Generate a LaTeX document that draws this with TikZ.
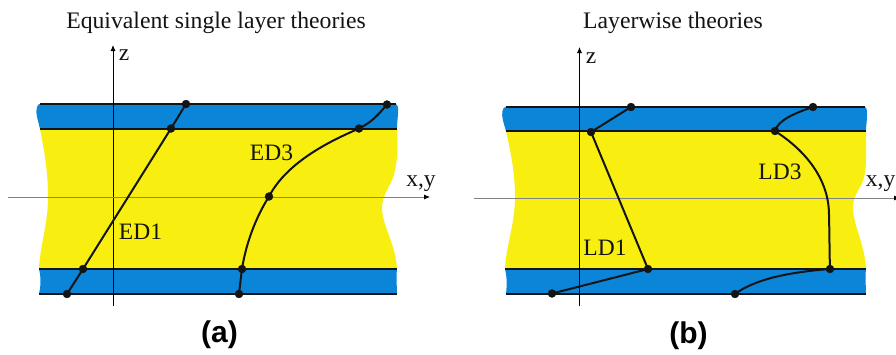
\documentclass[tikz,border=0pt]{standalone}
\usepackage{fontspec}
\setmainfont{Liberation Serif}
\newfontfamily\labelsans{Liberation Sans}
\usetikzlibrary{arrows.meta}
\definecolor{plyblue}{RGB}{10,133,215}
\definecolor{plyyellow}{RGB}{248,238,16}
\definecolor{axisgray}{RGB}{130,130,130}
\definecolor{inkblack}{RGB}{20,20,20}
\tikzset{
  pt/.style={circle,fill=inkblack,draw=inkblack,inner sep=0pt,minimum size=8pt,line width=0.3pt},
  curveline/.style={draw=inkblack,line width=2pt},
  iface/.style={draw=inkblack,line width=1.6pt},
  zaxis/.style={draw=black,line width=0.8pt,-{Latex[length=6pt,width=5pt]}},
  xaxis/.style={draw=axisgray,line width=0.8pt,-{Latex[length=6pt,width=5pt,color=black]}},
  lab/.style={inner sep=0pt,font=\fontsize{23.5}{23.5}\selectfont,text=inkblack},
  ttl/.style={inner sep=0pt,font=\fontsize{23.7}{23.7}\selectfont,text=inkblack},
  captext/.style={inner sep=0pt,font=\labelsans\bfseries\fontsize{30}{30}\selectfont}
}
\begin{document}
\begin{tikzpicture}[x=1pt,y=-1pt]
\useasboundingbox (0,0) rectangle (896,354);
\clip (0,0) rectangle (896,354);
\fill[white] (0,0) rectangle (896,354);
% left panel layers
\fill[plyblue] (40,104) -- (395,104) .. controls (398,104) and (398.5,108) .. (398,114) .. controls (397.5,120) and (397,124) .. (397,129) -- (40,129) .. controls (38,120) and (35,112) .. (37,107) .. controls (37.5,105) and (38.5,104) .. (40,104) -- cycle;
\fill[plyyellow] (40,129) -- (397,129) .. controls (397.5,145) and (398,160) .. (394,175) .. controls (391,185) and (382,195) .. (382,208) .. controls (382,225) and (396,245) .. (397,269) -- (39,269) .. controls (40,245) and (48,225) .. (48,197) .. controls (48,170) and (44,150) .. (40,129) -- cycle;
\fill[plyblue] (39,269) -- (397,269) .. controls (396,278) and (397,287) .. (397,294) -- (39,294) .. controls (41,285) and (41,277) .. (39,269) -- cycle;
\coordinate (a1) at (40,104); \coordinate (a2) at (396,104);
\coordinate (a3) at (40,129); \coordinate (a4) at (397,129);
\coordinate (a5) at (39,269); \coordinate (a6) at (397,269);
\coordinate (a7) at (39,294); \coordinate (a8) at (397,294);
\draw[iface] (a1)--(a2); \draw[iface] (a3)--(a4); \draw[iface] (a5)--(a6); \draw[iface] (a7)--(a8);
% left axes
\coordinate (azb) at (113,306); \coordinate (azt) at (113,45);
\coordinate (axl) at (8,197); \coordinate (axr) at (430,197);
\draw[zaxis] (azb)--(azt);
\draw[xaxis] (axl)--(axr);
% right panel layers
\fill[plyblue] (506,107) -- (864,107) .. controls (867,107) and (867,110) .. (867,115) .. controls (867,121) and (866,126) .. (866,131) -- (506,131) .. controls (504,124) and (501,116) .. (502.5,111) .. controls (503,108) and (504,107) .. (506,107) -- cycle;
\fill[plyyellow] (506,131) -- (866,131) .. controls (866,145) and (867,165) .. (864,178) .. controls (861,188) and (853,195) .. (853,207) .. controls (853,225) and (865,245) .. (866,269) -- (505,269) .. controls (506,245) and (515,225) .. (515,197) .. controls (515,170) and (510,150) .. (506,131) -- cycle;
\fill[plyblue] (505,269) -- (866,269) .. controls (865,278) and (866,287) .. (866,294) -- (506,294) .. controls (507,285) and (507,277) .. (505,269) -- cycle;
\coordinate (b1) at (506,107); \coordinate (b2) at (865,107);
\coordinate (b3) at (506,131); \coordinate (b4) at (866,131);
\coordinate (b5) at (505,269); \coordinate (b6) at (866,269);
\coordinate (b7) at (506,294); \coordinate (b8) at (866,294);
\draw[iface] (b1)--(b2); \draw[iface] (b3)--(b4); \draw[iface] (b5)--(b6); \draw[iface] (b7)--(b8);
% right axes
\coordinate (bzb) at (579.5,306); \coordinate (bzt) at (579.5,47);
\coordinate (bxl) at (474,198); \coordinate (bxr) at (900,198);
\draw[zaxis] (bzb)--(bzt);
\draw[xaxis] (bxl)--(bxr);
% points
\node[pt] (e1) at (186,104) {};
\node[pt] (e2) at (171,128.5) {};
\node[pt] (e3) at (83,269) {};
\node[pt] (e4) at (67,294) {};
\node[pt] (f1) at (387,104.5) {};
\node[pt] (f2) at (359,128.5) {};
\node[pt] (f3) at (269,196.5) {};
\node[pt] (f4) at (242,269) {};
\node[pt] (f5) at (239,294) {};
\node[pt] (g1) at (631,107) {};
\node[pt] (g2) at (591,132) {};
\node[pt] (g3) at (648,269) {};
\node[pt] (g4) at (552,293.5) {};
\node[pt] (h1) at (813,107) {};
\node[pt] (h2) at (775,131) {};
\node[pt] (h3) at (830,269) {};
\node[pt] (h4) at (735,294) {};
% curves
\draw[curveline] (e1.center)--(e2.center)--(e3.center)--(e4.center);
\draw[curveline] (f1.center) .. controls (378,115) and (372,122) .. (f2.center)
  .. controls (335,139) and (288,160) .. (f3.center)
  .. controls (256,217) and (246,243) .. (f4.center)
  .. controls (241,277) and (240,285) .. (f5.center);
\draw[curveline] (g1.center)--(g2.center)--(g3.center)--(g4.center);
\draw[curveline] (h1.center) .. controls (795,113) and (778,120) .. (h2.center)
  .. controls (800,147) and (829,175) .. (829,215)
  .. controls (829.5,235) and (829.5,255) .. (h3.center)
  .. controls (790,272) and (755,279) .. (h4.center);
% labels
\node[lab,anchor=base] (lz1) at (124,60) {z};
\node[lab,anchor=base] (lxy1) at (421,186) {x,y};
\node[lab,anchor=base] (led3) at (271.5,160) {ED3};
\node[lab,anchor=base] (led1) at (140.5,239) {ED1};
\node[lab,anchor=base] (lz2) at (591,63) {z};
\node[lab,anchor=base east] (lxy2) at (895.5,186) {x,y};
\node[lab,anchor=base] (lld3) at (780,179) {LD3};
\node[lab,anchor=base] (lld1) at (605,255) {LD1};
\node[ttl,anchor=base] (t1) at (216,28) {Equivalent single layer theories};
\node[ttl,anchor=base] (t2) at (673,28) {Layerwise theories};
\node[captext,anchor=base] (c1) at (219.5,342) {(a)};
\node[captext,anchor=base] (c2) at (688.5,343) {(b)};
\end{tikzpicture}
\end{document}
